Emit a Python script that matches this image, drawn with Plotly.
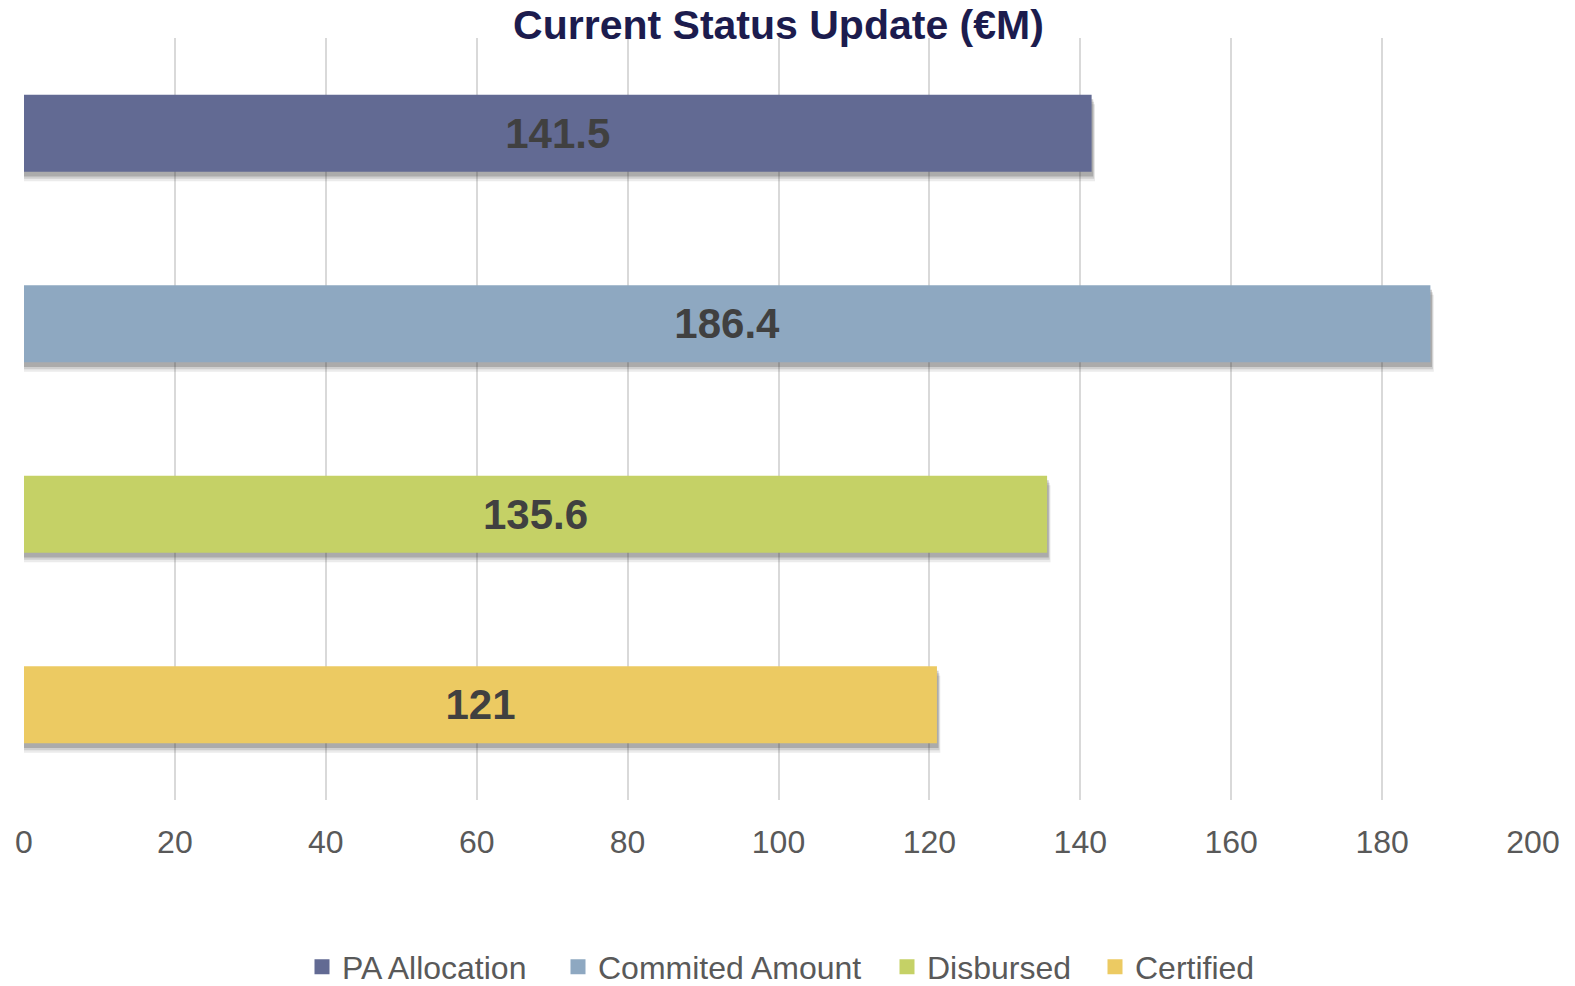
import plotly.graph_objects as go

series_names = ["PA Allocation", "Commited Amount", "Disbursed", "Certified"]
values = [141.5, 186.4, 135.6, 121]
colors = ["#626a93", "#8ea8c1", "#c5d166", "#ecca62"]
x_ticks = [0, 20, 40, 60, 80, 100, 120, 140, 160, 180, 200]

FONT = "Arial"
BAR_W = 0.405
W, H = 1575, 986
legend_marker_px = [322, 578, 907, 1115]   # legend item positions (px)

fig = go.Figure()

# soft drop shadow under each bar (same data, drawn first)
for name, v in zip(series_names, values):
    for k, a in enumerate([0.10, 0.16, 0.24]):
        fig.add_trace(go.Bar(
            y=[name], x=[v + 0.45 - 0.12 * k], orientation="h",
            width=BAR_W,
            offset=-BAR_W / 2 + 0.05 - 0.013 * k,
            marker=dict(color=f"rgba(60,60,60,{a})", line=dict(width=0)),
            showlegend=False, hoverinfo="skip",
        ))

for name, v, c in zip(series_names, values, colors):
    fig.add_trace(go.Bar(
        name=name,
        y=[name],
        x=[v],
        orientation="h",
        width=BAR_W,
        offset=-BAR_W / 2,
        marker=dict(color=c, line=dict(width=0)),
        text=[f"<b>{v:g}</b>"],
        textposition="inside",
        insidetextanchor="middle",
        textfont=dict(size=42, color="#404040", family=FONT),
        constraintext="none",
        hoverinfo="x+name",
        showlegend=False,
    ))

# legend entries (one legend per series so spacing can match)
legend_layout = {}
for i, (name, c, px) in enumerate(zip(series_names, colors, legend_marker_px)):
    lg = "legend" if i == 0 else f"legend{i + 1}"
    fig.add_trace(go.Scatter(
        x=[None], y=[None], mode="markers", name=name,
        marker=dict(symbol="square", size=15, color=c),
        showlegend=True, legend=lg, hoverinfo="skip",
    ))
    legend_layout[lg] = dict(
        orientation="h",
        x=(px - 20) / W, xanchor="left", xref="container",
        y=1 - 967 / H, yanchor="middle", yref="container",
        font=dict(size=32, color="#595959", family=FONT),
        itemsizing="trace",
        bgcolor="rgba(0,0,0,0)",
    )

fig.update_layout(
    width=W,
    height=H,
    barmode="overlay",
    plot_bgcolor="white",
    paper_bgcolor="white",
    margin=dict(l=24, r=42, t=38, b=186, autoexpand=False),
    font=dict(family=FONT, color="#595959"),
    title=dict(
        text="<b>Current Status Update (€M)</b>",
        x=0.5, xref="paper", xanchor="center",
        y=1 - 25 / H, yref="container", yanchor="middle",
        font=dict(size=41, color="#1c1c4e", family=FONT),
    ),
    xaxis=dict(
        range=[0, 200],
        tickvals=x_ticks,
        showgrid=True,
        gridcolor="#d9d9d9",
        gridwidth=2,
        zeroline=False,
        showline=False,
        ticks="outside",
        ticklen=14,
        tickcolor="rgba(0,0,0,0)",
        tickfont=dict(size=32, color="#595959", family=FONT),
        automargin=False,
    ),
    yaxis=dict(
        categoryorder="array",
        categoryarray=series_names,
        range=[3.5, -0.5],
        showticklabels=False,
        showgrid=False,
        zeroline=False,
        showline=False,
        automargin=False,
    ),
    **legend_layout,
)

fig.write_html(
    "out.html",
    config={"displayModeBar": False},
    post_script="document.body.style.margin='0';",
)
